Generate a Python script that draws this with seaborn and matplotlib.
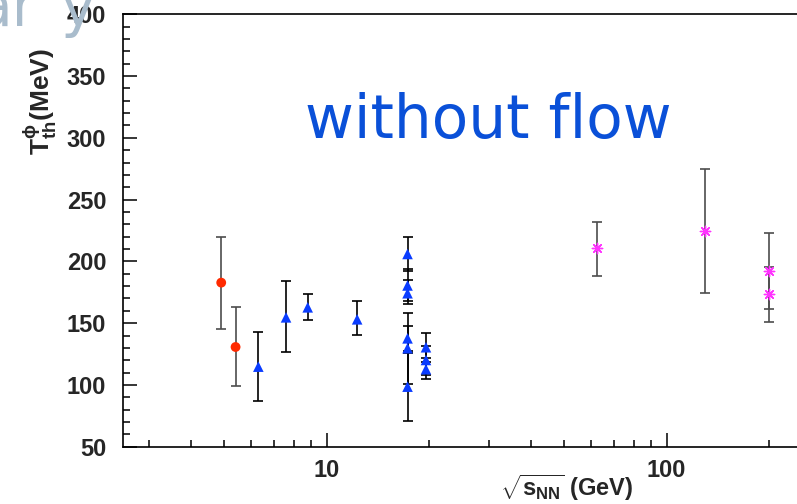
import numpy as np
import pandas as pd
import matplotlib
matplotlib.use("Agg")
import matplotlib.pyplot as plt
from matplotlib.ticker import MultipleLocator, LogLocator, NullFormatter, FixedLocator, FixedFormatter
import seaborn as sns

# ---- data ----
red_x = [4.9, 5.4]
red_y = [182.8, 130.7]
red_lo = [145.0, 98.9]
red_hi = [219.5, 163.3]

blue_x = [6.3, 7.6, 8.8, 12.3, 17.3, 17.3, 17.3, 17.3, 17.3, 17.3, 19.6, 19.6, 19.6]
blue_y = [114.8, 154.7, 162.8, 153.1, 206.0, 180.5, 174.2, 137.7, 129.7, 98.6, 130.5, 120.2, 112.7]
blue_lo = [87.2, 126.7, 152.8, 140.2, 192.5, 168.2, 165.5, 127.4, 100.7, 71.0, 118.8, 108.0, 104.8]
blue_hi = [143.1, 184.4, 173.8, 167.9, 219.5, 193.8, 184.9, 148.0, 158.5, 126.1, 141.8, 131.5, 121.6]

mag_x = [62.4, 130.0, 200.0, 200.0]
mag_y = [210.6, 224.8, 192.2, 173.6]
mag_lo = [188.2, 174.7, 161.5, 150.7]
mag_hi = [231.6, 274.8, 223.2, 195.7]

x_major = [10, 100]
x_major_labels = ["10", "100"]
y_ticks = [50, 100, 150, 200, 250, 300, 350, 400]

sns.set_style("white")
plt.rcParams["font.family"] = ["Liberation Sans", "DejaVu Sans"]
plt.rcParams["mathtext.fontset"] = "custom"
plt.rcParams["mathtext.rm"] = "Liberation Sans"
plt.rcParams["mathtext.bf"] = "Liberation Sans:bold"
plt.rcParams["mathtext.it"] = "Liberation Sans:italic:bold"

W, H = 797, 504
fig = plt.figure(figsize=(W / 100, H / 100), dpi=100)
x0, x1 = 2.52, 300.0
left_px, bot_px, top_px = 123, 446.7, 14.3
right_px = 666.7 + 340 * np.log10(x1 / 100)
ax = fig.add_axes([left_px / W, 1 - bot_px / H, (right_px - left_px) / W, (bot_px - top_px) / H])

groups = [
    (red_x, red_y, red_lo, red_hi, "#4d4d4d"),
    (blue_x, blue_y, blue_lo, blue_hi, "black"),
    (mag_x, mag_y, mag_lo, mag_hi, "#4d4d4d"),
]
for gx, gy, glo, ghi, ecol in groups:
    gy_a = np.array(gy)
    yerr = np.vstack([gy_a - np.array(glo), np.array(ghi) - gy_a])
    ax.errorbar(gx, gy, yerr=yerr, fmt="none", ecolor=ecol, elinewidth=1.2,
                capsize=3.5, capthick=1.2, zorder=2)

df_red = pd.DataFrame({"x": red_x, "y": red_y})
df_blue = pd.DataFrame({"x": blue_x, "y": blue_y})
df_mag = pd.DataFrame({"x": mag_x, "y": mag_y})
sns.scatterplot(data=df_red, x="x", y="y", ax=ax, marker="o", color="#ff2a00",
                s=50, edgecolor="none", zorder=3, legend=False)
sns.scatterplot(data=df_blue, x="x", y="y", ax=ax, marker="^", color="#0a3cff",
                s=58, edgecolor="none", zorder=3, legend=False)
ax.scatter(df_mag["x"], df_mag["y"], marker=(8, 2, 0), color="#ff33ff",
           s=55, linewidths=1.0, zorder=3)

ax.set_xscale("log")
ax.set_xlim(x0, x1)
ax.set_ylim(50, 400)
ax.xaxis.set_major_locator(FixedLocator(x_major))
ax.xaxis.set_major_formatter(FixedFormatter(x_major_labels))
ax.xaxis.set_minor_locator(LogLocator(base=10, subs=np.arange(2, 10), numticks=20))
ax.xaxis.set_minor_formatter(NullFormatter())
ax.set_yticks(y_ticks)
ax.yaxis.set_minor_locator(MultipleLocator(10))
ax.set_xlabel("")
ax.set_ylabel("")

for s in ["left", "bottom", "top", "right"]:
    ax.spines[s].set_visible(True)
    ax.spines[s].set_linewidth(1.2)
    ax.spines[s].set_color("black")
ax.tick_params(axis="both", which="both", direction="in", bottom=True, left=True,
               top=False, right=False, width=1.1, color="black")
ax.tick_params(axis="x", which="major", length=10, pad=9)
ax.tick_params(axis="x", which="minor", length=5)
ax.tick_params(axis="y", which="major", length=10, pad=12)
ax.tick_params(axis="y", which="minor", length=5)
for lab in ax.get_xticklabels() + ax.get_yticklabels():
    lab.set_fontsize(17)
    lab.set_fontweight("bold")

fig.text(567 / W, 1 - 488 / H, r"$\sqrt{\mathbf{s}_{\mathbf{NN}}}$ (GeV)",
         ha="center", va="center", fontsize=17, fontweight="bold")
fig.text(40 / W, 1 - 102 / H, r"$\mathbf{T^{\phi}_{th}}$(MeV)", rotation=90,
         ha="center", va="center", fontsize=19, fontweight="bold")

fig.text(305 / W, 1 - 138 / H, "without flow", ha="left", va="baseline",
         fontsize=43, color="#0a50d8", family="DejaVu Sans")

fig.text(36 / W, 1 - 26 / H, "ar", ha="right", va="baseline", fontsize=42,
         color="#a9bccc", family="DejaVu Sans", zorder=10)
fig.text(60 / W, 1 - 26 / H, "y", ha="left", va="baseline", fontsize=42,
         color="#a9bccc", family="DejaVu Sans", zorder=10)

fig.savefig("out.png", dpi=100)
